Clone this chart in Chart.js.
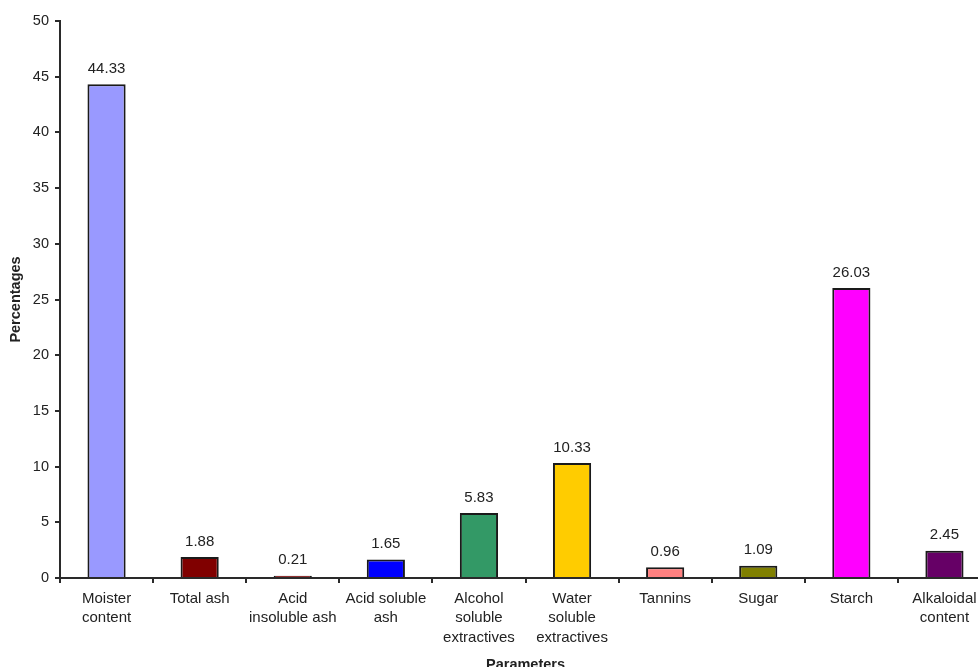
<!DOCTYPE html>
<html>
<head>
<meta charset="utf-8">
<script src="https://cdn.jsdelivr.net/npm/chart.js@4/dist/chart.umd.min.js"></script>
<style>
  html, body { margin: 0; padding: 0; background: #fff; overflow: hidden; }
  #wrap { width: 1000px; height: 680px; }
</style>
</head>
<body>
<div id="wrap"><canvas id="chart" width="1000" height="680"></canvas></div>
<script>
// Phytochemical / physicochemical parameters (%)
const categories = [
  ["Moister", "content"],
  "Total ash",
  ["Acid", "insoluble ash"],
  ["Acid soluble", "ash"],
  ["Alcohol", "soluble", "extractives"],
  ["Water", "soluble", "extractives"],
  "Tannins",
  "Sugar",
  "Starch",
  ["Alkaloidal", "content"]
];
const percentages = [44.33, 1.88, 0.21, 1.65, 5.83, 10.33, 0.96, 1.09, 26.03, 2.45];
const valueLabels = ["44.33", "1.88", "0.21", "1.65", "5.83", "10.33", "0.96", "1.09", "26.03", "2.45"];
const barColors = ["#9999FF", "#800000", "#800000", "#0000FF", "#339966", "#FFCC00", "#FF8080", "#808000", "#FF00FF", "#660066"];
const yTicks = [0, 5, 10, 15, 20, 25, 30, 35, 40, 45, 50];

const FONT = "'Liberation Sans', Arial, sans-serif";
const INK = "#222";

// Writes each bar's value just above its top
const valueLabelPlugin = {
  id: "valueLabels",
  afterDatasetsDraw(chart) {
    const ctx = chart.ctx;
    const meta = chart.getDatasetMeta(0);
    ctx.save();
    ctx.font = "15px " + FONT;
    ctx.fillStyle = INK;
    ctx.textAlign = "center";
    ctx.textBaseline = "middle";
    meta.data.forEach((bar, i) => {
      ctx.fillText(valueLabels[i], bar.x, bar.y - 15.5);
    });
    ctx.restore();
  }
};

new Chart(document.getElementById("chart"), {
  type: "bar",
  data: {
    labels: categories,
    datasets: [{
      data: percentages,
      backgroundColor: barColors,
      borderColor: "#1a1a1a",
      borderWidth: 2,
      barPercentage: 0.41,
      categoryPercentage: 1
    }]
  },
  options: {
    responsive: false,
    animation: false,
    devicePixelRatio: 1,
    layout: { padding: { left: 0, right: 9, top: 21, bottom: 0 } },
    plugins: {
      legend: { display: false },
      tooltip: { enabled: false }
    },
    scales: {
      x: {
        afterFit(scale) { scale.height = 102; },
        border: { display: true, color: "#2a2a2a", width: 2 },
        grid: { display: true, drawOnChartArea: false, drawTicks: true, tickLength: 5, offset: true, color: "#2a2a2a", lineWidth: 2 },
        ticks: {
          color: INK,
          padding: 6,
          maxRotation: 0,
          autoSkip: false,
          font: { family: FONT, size: 15, lineHeight: 1.3 }
        },
        title: {
          display: true,
          text: "Parameters",
          color: INK,
          padding: { top: 0, bottom: 6 },
          font: { family: FONT, size: 14.5, weight: "bold" }
        }
      },
      y: {
        min: 0,
        max: 50,
        afterFit(scale) { scale.width = 60; },
        afterBuildTicks(scale) { scale.ticks = yTicks.map(v => ({ value: v })); },
        border: { display: true, color: "#2a2a2a", width: 2 },
        grid: { display: true, drawOnChartArea: false, drawTicks: true, tickLength: 5, color: "#2a2a2a", lineWidth: 2 },
        ticks: {
          color: INK,
          padding: 6,
          font: { family: FONT, size: 14.5 }
        },
        title: {
          display: true,
          text: "Percentages",
          color: INK,
          padding: { top: 7, bottom: 0 },
          font: { family: FONT, size: 14.5, weight: "bold" }
        }
      }
    }
  },
  plugins: [valueLabelPlugin]
});
</script>
</body>
</html>
